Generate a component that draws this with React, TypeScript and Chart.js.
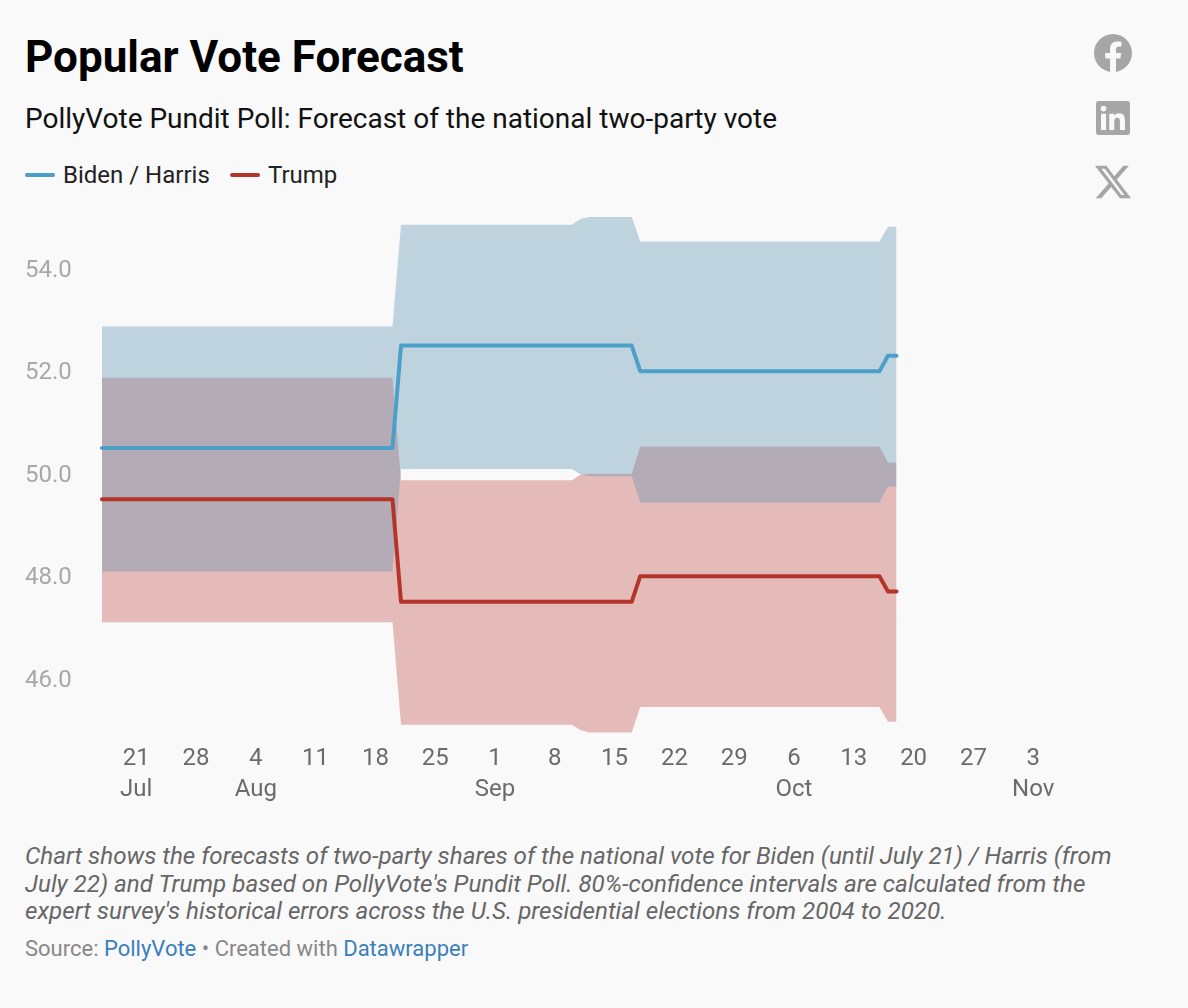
import { Chart, registerables } from 'chart.js'
import { FC, useEffect, useRef } from 'react'

Chart.register(...registerables)

// days since Jul 17, only the days where a value changes
const days = [0, 34, 35, 55, 56, 57, 62, 63, 91, 92, 93]

const bidenForecast = [50.5, 50.5, 52.5, 52.5, 52.5, 52.5, 52.5, 52.0, 52.0, 52.3, 52.3]
const trumpForecast = [49.5, 49.5, 47.5, 47.5, 47.5, 47.5, 47.5, 48.0, 48.0, 47.7, 47.7]

const bidenUpper = [52.87, 52.87, 54.86, 54.86, 54.97, 55.01, 55.01, 54.53, 54.53, 54.82, 54.82]
const bidenLower = [48.09, 48.09, 50.09, 50.09, 49.99, 49.95, 49.95, 49.44, 49.44, 49.75, 49.75]
const trumpUpper = [51.87, 51.87, 49.87, 49.87, 49.98, 50.0, 50.0, 50.53, 50.53, 50.22, 50.22]
const trumpLower = [47.1, 47.1, 45.1, 45.1, 45.0, 44.95, 44.95, 45.45, 45.45, 45.16, 45.16]

const xTickDays = [4, 11, 18, 25, 32, 39, 46, 53, 60, 67, 74, 81, 88, 95, 102, 109]
const xTickLabels = ['21', '28', '4', '11', '18', '25', '1', '8', '15', '22', '29', '6', '13', '20', '27', '3']
const xTickMonths = ['Jul', '', 'Aug', '', '', '', 'Sep', '', '', '', '', 'Oct', '', '', '', 'Nov']
const yTicks = [46, 48, 50, 52, 54]

const BIDEN = '#4c9fc9'
const TRUMP = '#b5342a'
const BIDEN_BAND = 'rgba(88, 143, 177, 0.36)'
const TRUMP_BAND = 'rgba(193, 77, 71, 0.36)'
const BG = '#f9f9f9'
const FONT = 'Roboto, sans-serif'

const toPoints = (values: number[]) => values.map((y, i) => ({ x: days[i], y }))

const ForecastChart: FC = () => {
    const canvasRef = useRef<HTMLCanvasElement>(null)

    useEffect(() => {
        if (!canvasRef.current) return

        const chart = new Chart(canvasRef.current, {
            type: 'line',
            data: {
                datasets: [
                    { label: 'Biden / Harris', data: toPoints(bidenForecast), borderColor: BIDEN, borderWidth: 4, fill: false, clip: false },
                    { label: 'Trump', data: toPoints(trumpForecast), borderColor: TRUMP, borderWidth: 4, fill: false, clip: false },
                    { label: 'Biden upper', data: toPoints(bidenUpper), borderWidth: 0, backgroundColor: BIDEN_BAND, fill: '+1', clip: false },
                    { label: 'Biden lower', data: toPoints(bidenLower), borderWidth: 0, fill: false, clip: false },
                    { label: 'Trump upper', data: toPoints(trumpUpper), borderWidth: 0, backgroundColor: TRUMP_BAND, fill: '+1', clip: false },
                    { label: 'Trump lower', data: toPoints(trumpLower), borderWidth: 0, fill: false, clip: false }
                ]
            },
            options: {
                responsive: false,
                animation: false,
                parsing: false,
                elements: {
                    point: { radius: 0 },
                    line: { tension: 0, borderCapStyle: 'round', borderJoinStyle: 'round' }
                },
                layout: { padding: { left: 25, right: 120.6, top: 17.2, bottom: 0 } },
                plugins: {
                    legend: { display: false },
                    tooltip: { enabled: false }
                },
                scales: {
                    x: {
                        type: 'linear',
                        min: 0,
                        max: 113,
                        grid: { display: false, tickLength: 0 },
                        border: { display: false },
                        afterBuildTicks: (axis: any) => {
                            axis.ticks = xTickDays.map(value => ({ value }))
                        },
                        afterFit: (axis: any) => {
                            axis.height = 79.8
                        },
                        ticks: {
                            autoSkip: false,
                            maxRotation: 0,
                            padding: 3.3,
                            color: '#6b6b6b',
                            font: { family: FONT, size: 24, lineHeight: 1.3 },
                            callback: (value: any) => {
                                const i = xTickDays.indexOf(Number(value))
                                return [xTickLabels[i], xTickMonths[i]]
                            }
                        }
                    },
                    y: {
                        min: 44.8,
                        max: 55.2,
                        grid: { display: false },
                        border: { display: false },
                        afterBuildTicks: (axis: any) => {
                            axis.ticks = yTicks.map(value => ({ value }))
                        },
                        afterFit: (axis: any) => {
                            axis.width = 77
                        },
                        ticks: {
                            crossAlign: 'far',
                            color: '#a8a8a8',
                            // empty first line + small line height nudges the label down to the line level
                            font: { family: FONT, size: 24, lineHeight: '4px' },
                            callback: (value: any) => ['', Number(value).toFixed(1)]
                        }
                    }
                }
            }
        } as any)

        return () => chart.destroy()
    }, [])

    return <canvas ref={canvasRef} width={1188} height={630} style={{ position: 'absolute', left: 0, top: 190 }} />
}

const LegendItem: FC<{ color: string, label: string, left: number }> = ({ color, label, left }) => (
    <div style={{ position: 'absolute', left, top: 160, height: 30, lineHeight: '30px', fontSize: 24, color: '#222', whiteSpace: 'nowrap' }}>
        <span style={{ position: 'absolute', left: 0, top: 13, width: 30, height: 4, borderRadius: 2, background: color }} />
        <span style={{ marginLeft: 38 }}>{label}</span>
    </div>
)

const Icon: FC<{ d: string, top: number, left: number, size: number }> = ({ d, top, left, size }) => (
    <svg viewBox="0 0 24 24" width={size} height={size} style={{ position: 'absolute', left, top }}>
        <path d={d} fill="#a6a6a6" />
    </svg>
)

const App: FC = () => (
    <div style={{ position: 'absolute', left: 0, top: 0, width: 1188, height: 1008, overflow: 'hidden', background: BG, fontFamily: FONT }}>
        <div style={{ position: 'absolute', left: 25, top: 31, fontSize: 44, lineHeight: '52px', fontWeight: 700, color: '#000', whiteSpace: 'nowrap' }}>
            Popular Vote Forecast
        </div>
        <div style={{ position: 'absolute', left: 25, top: 102, fontSize: 28, lineHeight: '34px', color: '#111', whiteSpace: 'nowrap' }}>
            PollyVote Pundit Poll: Forecast of the national two-party vote
        </div>
        <LegendItem color={BIDEN} label="Biden / Harris" left={25} />
        <LegendItem color={TRUMP} label="Trump" left={230} />

        <Icon left={1094} top={34} size={38} d="M24 12.073c0-6.627-5.373-12-12-12s-12 5.373-12 12c0 5.99 4.388 10.954 10.125 11.854v-8.385H7.078v-3.47h3.047V9.43c0-3.007 1.792-4.669 4.533-4.669 1.312 0 2.686.235 2.686.235v2.953H15.83c-1.491 0-1.956.925-1.956 1.874v2.25h3.328l-.532 3.47h-2.796v8.385C19.612 23.027 24 18.062 24 12.073z" />
        <Icon left={1096} top={101} size={34} d="M20.447 20.452h-3.554v-5.569c0-1.328-.027-3.037-1.852-3.037-1.853 0-2.136 1.445-2.136 2.939v5.667H9.351V9h3.414v1.561h.046c.477-.9 1.637-1.85 3.37-1.85 3.601 0 4.267 2.37 4.267 5.455v6.286zM5.337 7.433c-1.144 0-2.063-.926-2.063-2.065 0-1.138.92-2.063 2.063-2.063 1.14 0 2.064.925 2.064 2.063 0 1.139-.925 2.065-2.064 2.065zm1.782 13.019H3.555V9h3.564v11.452zM22.225 0H1.771C.792 0 0 .774 0 1.729v20.542C0 23.227.792 24 1.771 24h20.451C23.2 24 24 23.227 24 22.271V1.729C24 .774 23.2 0 22.222 0h.003z" />
        <Icon left={1095} top={164} size={36} d="M18.901 1.153h3.68l-8.04 9.19L24 22.846h-7.406l-5.8-7.584-6.638 7.584H.474l8.6-9.83L0 1.154h7.594l5.243 6.932ZM17.61 20.644h2.039L6.486 3.24H4.298Z" />

        <ForecastChart />

        <div style={{ position: 'absolute', left: 25, top: 843, fontSize: 24.2, lineHeight: '27.7px', fontStyle: 'italic', color: '#666', whiteSpace: 'nowrap' }}>
            Chart shows the forecasts of two-party shares of the national vote for Biden (until July 21) / Harris (from<br />
            July 22) and Trump based on PollyVote's Pundit Poll. 80%-confidence intervals are calculated from the<br />
            expert survey's historical errors across the U.S. presidential elections from 2004 to 2020.
        </div>
        <div style={{ position: 'absolute', left: 25, top: 935, fontSize: 22, lineHeight: '28px', color: '#888', whiteSpace: 'nowrap' }}>
            Source: <span style={{ color: '#3a80ba' }}>PollyVote</span> • Created with <span style={{ color: '#3a80ba' }}>Datawrapper</span>
        </div>
    </div>
)

export default App
